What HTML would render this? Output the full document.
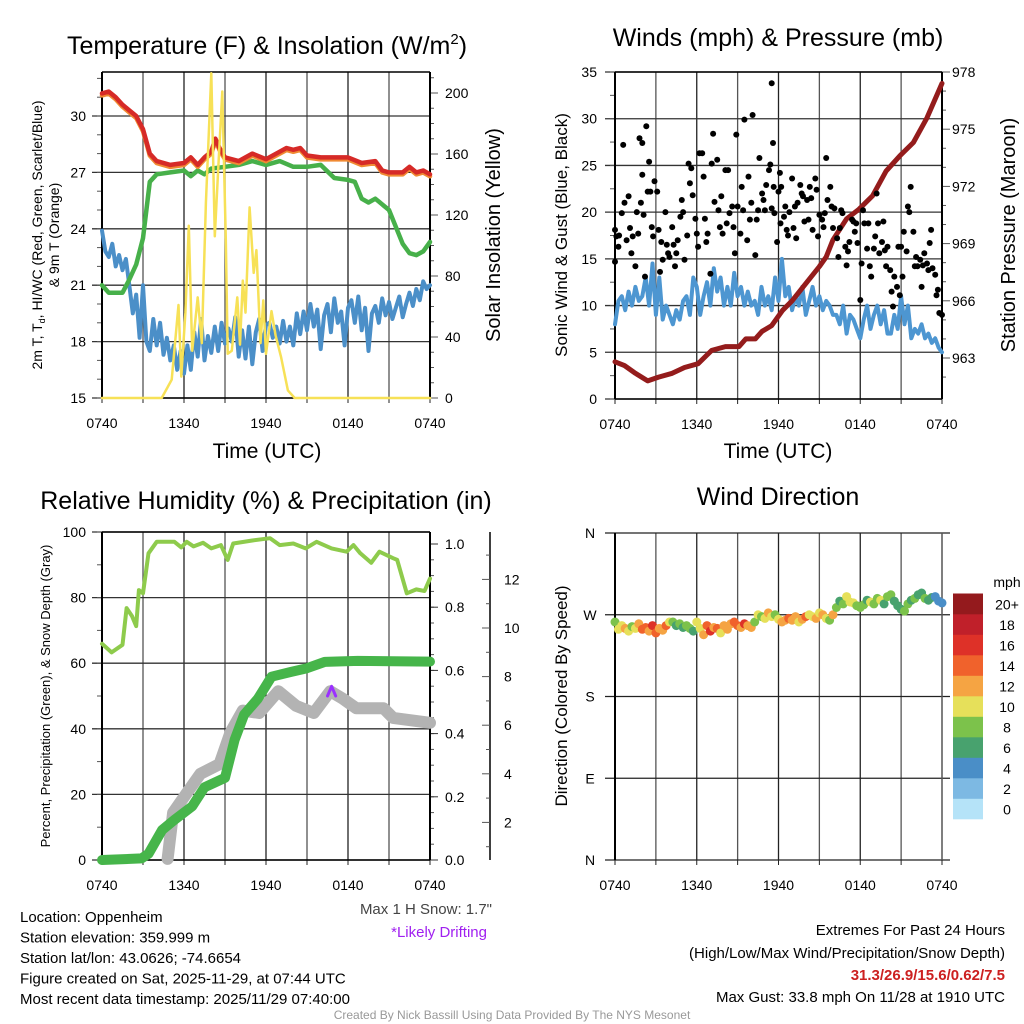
<!DOCTYPE html>
<html><head><meta charset="utf-8"><style>
html,body{margin:0;padding:0;background:#fff;}
svg{display:block;font-family:"Liberation Sans",sans-serif;}
</style></head><body>
<svg id="chart" width="1024" height="1024" viewBox="0 0 1024 1024" xmlns="http://www.w3.org/2000/svg">
<rect width="1024" height="1024" fill="#fff"/>
<g id="gAxes"></g>
<g id="gData"></g>
<g id="gText"></g>
</svg>
<script>
// ---------- Panel 1: temperature & insolation ----------
const tempHours = [0,0.5,1,1.5,2,2.5,3,3.5,4,5,6,6.5,7,7.5,8,8.3,8.6,9,10,11,12,13,13.5,14,14.5,15,16,17,18,19,20,20.5,21,22,22.5,23,23.5,24];
const tempValues = [31.2,31.3,31.0,30.6,30.3,30.0,29.3,28.0,27.6,27.4,27.5,27.8,27.4,27.8,28.1,28.8,28.3,27.8,27.6,28.0,27.7,28.1,28.3,28.2,28.3,27.9,27.8,27.8,27.8,27.5,27.6,27.1,27.0,27.0,27.3,27.0,27.1,26.9];
const dewHours = [0,0.5,1.5,2,2.5,3,3.5,4,5,6,6.5,7,7.5,8,9,10,11,12,13,14,15,16,17,18,18.5,19,19.5,20,21,22,22.5,23,23.5,24];
const dewValues = [21.0,20.6,20.6,21.3,22.1,23.5,26.5,26.9,27.0,27.1,26.8,27.1,26.9,27.2,27.3,27.4,27.6,27.4,27.6,27.3,27.3,27.4,26.7,26.6,26.5,25.6,25.4,25.6,25.0,23.2,22.7,22.6,22.8,23.3];
const chillValues = [23.9,22.8,22.5,23.2,22.0,22.6,21.8,22.4,21.0,19.5,20.5,18.2,21.0,18.0,17.5,19.2,17.8,19.0,17.3,18.2,17.0,17.8,16.5,17.5,16.3,17.8,16.5,18.5,17.2,19.2,17.0,18.3,17.4,18.8,17.5,19.0,17.9,18.7,18.0,19.3,17.2,18.6,17.1,18.8,16.8,18.5,19.2,17.5,18.9,19.0,18.2,18.8,17.9,19.1,18.0,18.8,17.8,19.5,18.4,19.6,18.6,20.0,18.8,19.7,17.6,19.4,20.0,18.5,20.3,19.0,19.6,17.8,19.8,20.2,19.0,20.4,18.6,19.8,17.5,19.5,19.9,19.0,20.3,19.4,20.1,19.2,19.8,20.4,19.3,20.0,20.6,19.9,20.8,20.2,21.2,20.8,21.0];
const solarHours = [0,4.37,5.1,5.6,5.8,6.1,6.35,6.6,7.0,7.3,7.6,8.0,8.25,8.5,8.8,9.06,9.2,9.5,9.9,10.1,10.3,10.5,10.8,11.1,11.3,11.6,11.8,12.0,12.4,12.7,13.1,13.6,14.1,24];
const solarValues = [0,0,12,61,14,56,113,31,66,36,128,213,106,150,201,104,29,31,66,35,77,56,125,82,97,36,64,29,57,41,27,5,0,0];
const tempTicks = [15,18,21,24,27,30];
const solarTicks = [0,40,80,120,160,200];
const timeLabels = ["0740","1340","1940","0140","0740"];

// ---------- Panel 2: winds & pressure ----------
const windValues = [8,10.5,11,9.5,11.5,10,12,10.5,11,13,10,14.5,9,13,8.5,10,9,8,9.5,8.5,10.5,11,9,13,12,9,11,12.5,10,14,11.5,13,10,12,10,13.5,11,12,10,11.5,10,10.5,9,12,10,11,9.5,13,10.5,15,11,12,9.5,11,10,12,9,10.5,12,10,11,9.5,10.5,10,9,9,8,10,7,9,8.5,7.5,6.5,8.5,10,7.5,9,10,8,9.5,7,7,9,7.5,11,8,10,6.5,7.5,7,8,6.5,7,6,6.5,5.5,5];
const gustHours = [0,0,0.1,0.25,0.3,0.6,0.5,0.7,0.85,1.0,1.1,1.2,1.3,1.5,1.6,1.7,1.8,1.9,2,2,2.1,2.2,2.3,2.4,2.5,2.6,2.7,2.8,2.9,3.1,3.2,3.3,3.4,3.5,3.7,3.8,3.9,4.0,4.2,4.3,4.4,4.5,4.6,4.8,4.9,5,5.1,5.3,5.4,5.5,5.6,5.7,5.9,6,6.1,6.2,6.4,6.5,6.6,6.7,6.8,7,7.1,7.2,7.3,7.5,7.6,7.7,7.8,7.9,8.1,8.2,8.3,8.4,8.6,8.7,8.8,8.9,9,9.2,9.3,9.4,9.5,9.7,9.8,9.9,10,10.1,10.3,10.4,10.5,10.6,10.8,10.9,11,11.1,11.3,11.4,11.5,11.5,11.6,11.65,11.7,11.9,12,12.1,12.15,12.2,12.4,12.5,12.6,12.7,12.8,13,13.1,13.2,13.3,13.4,13.6,13.7,13.8,13.9,14.1,14.2,14.3,14.4,14.5,14.7,14.8,14.9,15,15.2,15.3,15.4,15.5,15.6,15.8,15.9,16,16.1,16.3,16.4,16.5,16.6,16.7,16.9,17,17.1,17.2,17.4,17.5,17.6,17.7,17.8,18,18.1,18.2,18.3,18.5,18.6,18.7,18.8,19,19.1,19.2,19.3,19.4,19.6,19.7,19.8,19.9,20,20.2,20.3,20.4,20.5,20.7,20.8,20.9,21,21.1,21.2,21.4,21.5,21.6,21.7,21.9,22,22.1,22.2,22.4,22.5,22.6,22.7,22.9,23,23.1,23.2,23.3,23.5,23.6,23.7,23.8,24];
const gustValues = [14.7,18.1,17.4,16.3,17.5,27.2,19.9,21,17,21.7,18.3,15.6,17.4,14.2,20,17.7,27.9,21,27.4,24,19.7,13.1,29.2,22.2,25.4,22.2,18.4,17.4,23.3,22.2,18.1,13.6,16.8,14.9,20,16.5,15.6,15.2,18.4,16.5,14.2,15.6,17,19.5,21.3,20,14.9,17.5,25.2,23.1,24.7,21.8,19.3,17.7,16.3,26.3,26.3,23.8,19.3,16.8,17.7,13.4,25.2,28.4,21.1,25.6,20.2,18.4,21.7,17.7,24.5,18.8,24.5,19.9,20.6,18.4,15.6,28.3,20.6,17.7,22.7,20.2,29.9,17,23.8,19.2,21,30.4,15.4,19.2,20.2,25.8,22,21.3,20.2,22.9,24.5,25.1,33.8,20.4,27.4,22.7,19.9,16.8,22.2,24.2,18.8,22.7,19.5,20.6,18.1,17.5,20,23.6,18.3,20.6,17.2,21,22.9,22,21.7,19,21.3,19.2,22.7,21.5,18.1,23.6,22.4,17.4,19.7,19.2,18.4,19.9,25.8,21.3,22.7,20.6,18.3,20.4,17.2,15.2,18.3,20.2,19.9,16.3,14.3,15.8,16.8,19.2,19,17.9,18.8,16.7,10.6,14.5,20.2,18.8,16.1,18.8,14.2,13.1,16.1,17.4,22,18.8,15.6,16.8,19,15.9,14.2,16.3,13.8,11.5,9.9,13.1,12,16.3,11.1,16.3,13.1,17.9,15.8,20.6,20,22.7,17.9,14.2,15.2,14.2,14.9,12,14.3,15.6,14.5,13.8,16.7,18.1,14,13.3,11.1,11.7,9.2,9];
const presHours = [0,0.7,1.5,2.4,3.2,4.2,5.1,6.1,7.1,8.1,9.1,9.6,10.3,10.8,11.5,12.3,13.0,14.0,15.0,15.5,16.0,17.0,17.9,18.9,19.9,20.9,21.9,22.9,24];
const presValues = [962.8,962.6,962.2,961.8,962.0,962.2,962.5,962.7,963.4,963.6,963.6,964.0,964.0,964.4,964.7,965.5,966.0,966.9,967.8,968.3,969.2,970.3,970.8,971.5,972.8,973.6,974.3,975.6,977.4];
const windTicks = [0,5,10,15,20,25,30,35];
const presTicks = [963,966,969,972,975,978];

// ---------- Panel 3: RH, precip, snow ----------
const rhHours = [0,0.7,1.5,1.8,2.2,2.5,2.7,3.0,3.4,4.0,5.3,5.8,6.2,6.7,7.4,8.0,8.7,9.2,9.6,11.0,12.3,13,14,14.9,15.7,16.8,17.9,18.4,18.9,19.7,20.3,21.3,21.6,22.3,23,23.6,24];
const rhValues = [65.9,63.3,65.6,76.8,74.3,71.3,82.3,81.3,93.5,97,97,95.3,97,95.6,96.7,95,96,91.5,96.5,97.4,98.1,96,96.5,95,97,95,94,96,93.5,90.6,94,92,91.5,81.3,82.5,82,85.8];
const precipHours = [0,2.9,3.4,4.4,5.3,6.6,7.5,9,9.7,10.4,11.4,12.4,13.8,15,16.3,18.7,24];
const precipValues = [0,0.005,0.02,0.095,0.127,0.17,0.23,0.26,0.38,0.46,0.51,0.58,0.595,0.607,0.627,0.63,0.628];
const snowHours = [4.8,5.2,6.2,7.2,8.6,9.4,10.3,11.5,12.9,14.2,15.5,16.7,17.6,18.6,20.6,21.3,24];
const snowValues = [0.5,2.4,3.2,4.0,4.4,5.7,6.6,6.5,7.4,6.8,6.5,7.4,7.1,6.7,6.7,6.3,6.1];
const driftHours = [16.5,16.8,17.1];
const driftValues = [7.2,7.6,7.2];
const rhTicks = [0,20,40,60,80,100];
const precipTicks = ["0.0","0.2","0.4","0.6","0.8","1.0"];
const snowTicks = [2,4,6,8,10,12];

// ---------- Panel 4: wind direction ----------
const dirValues = [262,254,258,255,252,257,255,260,254,256,252,258,250,255,253,258,262,262,258,260,256,258,255,252,262,255,248,258,252,256,255,250,258,254,260,262,258,256,260,258,256,262,270,268,266,272,268,270,265,262,264,266,264,268,262,265,268,270,268,266,272,270,266,264,270,278,285,282,290,284,283,280,278,281,286,284,282,288,286,282,290,292,285,280,276,274,282,286,288,292,294,288,286,289,290,285,283];
const dirSpeeds = [8,10,11,12,10,9,11,13,15,14,12,16,15,13,12,15,11,8,7,8,7,9,8,7,10,10,12,14,16,12,15,11,13,12,13,15,14,12,16,13,12,9,10,8,11,12,10,9,11,12,13,15,12,13,11,12,14,10,11,12,10,12,11,9,13,8,7,9,10,11,10,8,9,8,7,10,9,8,10,7,9,8,6,6,7,9,8,7,8,7,6,8,7,6,5,4,4];
const dirTicks = ["N","E","S","W","N"];
const speedLabels = ["0","2","4","6","8","10","12","14","16","18","20+"];
const speedColors = ["#b5e3f8","#7db9e3","#4a8ec7","#48a26e","#7cc24b","#e6e05a","#f5a443","#f0622c","#de3128","#c0202a","#941a1d"];

// ---------- scales ----------
const X1 = h => 102 + h * 328 / 24;
const X2 = h => 615 + h * 327 / 24;
const YT = v => 398 - (v - 15) * 282 / 15;
const YS = w => 398 - w * 305 / 200;
const YW = v => 399 - v * 327 / 35;
const YP = p => 358 - (p - 963) * 286 / 15;
const YR = r => 860 - r * 3.28;
const YPc = p => 860 - p * 316;
const YSn = s => 871 - s * 24.3;
const YD = d => 860 - d * 327 / 360;

const NS = "http://www.w3.org/2000/svg";
const gA = document.getElementById("gAxes");
const gD = document.getElementById("gData");
const gT = document.getElementById("gText");
function mk(tag, parent, attrs) {
  const e = document.createElementNS(NS, tag);
  for (const k in attrs) e.setAttribute(k, attrs[k]);
  parent.appendChild(e);
  return e;
}
function line(parent, x1, y1, x2, y2, col, w, name) {
  const e = mk("line", parent, {x1: x1, y1: y1, x2: x2, y2: y2, stroke: col, "stroke-width": w});
  
  
  return e;
}
function text(parent, x, y, s, size, anchor, name, extra) {
  const e = mk("text", parent, {x: x, y: y, "font-size": size, "text-anchor": anchor, fill: "#000"});
  if (extra) for (const k in extra) e.setAttribute(k, extra[k]);
  e.textContent = s;
  
  
  return e;
}
function series(xs, ys, fx, fy, col, w, name, ofs) {
  let d = "";
  for (let i = 0; i < xs.length; i++) d += (i ? "L" : "M") + fx(xs[i]).toFixed(1) + "," + (fy(ys[i]) + (ofs || 0)).toFixed(1);
  const e = mk("path", gD, {d: d, fill: "none", stroke: col, "stroke-width": w, "stroke-linejoin": "round", "stroke-linecap": "round"});
  
  
  return e;
}
const idx = a => a.map((_, i) => i * 24 / (a.length - 1));

// ---------- frames and grids ----------
function panelGrid(x0, x1, y0, y1, fx, name) {
  for (let h = 3; h < 24; h += 3) line(gA, fx(h), y0, fx(h), y1, h % 6 ? "#555" : "#222", 1.3, name + "-vgrid");
  for (let h = 0; h <= 24; h += 3) line(gA, fx(h), y1, fx(h), y1 + 5, "#222", 1, name + "-xtick");
  timeLabels.forEach((s, i) => text(gT, fx(i * 6), y1 + 30, s, 14, "middle", name + "-x-tick-label"));
}
panelGrid(102, 430, 72, 398, X1, "temp");
tempTicks.forEach(v => { line(gA, 92, YT(v), 430, YT(v), "#333", 1.3, "temp-hgrid"); text(gT, 86, YT(v) + 5, String(v), 14, "end", "temp-y-tick-label"); });
for (let v = 15; v <= 32; v++) line(gA, 97, YT(v), 102, YT(v), "#555", 1, "temp-minor-tick");
for (let w = 0; w <= 210; w += 10) line(gA, 430, YS(w), w % 40 ? 434 : 438, YS(w), "#555", 1, "solar-tick");
solarTicks.forEach(w => text(gT, 445, YS(w) + 5, String(w), 14, "start", "solar-tick-label"));
line(gA, 102, 72, 102, 398, "#000", 2, "temp-left-axis");
line(gA, 430, 72, 430, 398, "#000", 2, "temp-right-axis");
line(gA, 102, 72, 430, 72, "#000", 1.5, "temp-top-axis");
line(gA, 102, 398, 430, 398, "#000", 1.5, "temp-bottom-axis");
panelGrid(615, 942, 72, 399, X2, "wind");
windTicks.forEach(v => { line(gA, 605, YW(v), 942, YW(v), "#333", 1.3, "wind-hgrid"); text(gT, 597, YW(v) + 5, String(v), 14, "end", "wind-y-tick-label"); });
for (let v = 0; v <= 35; v += 2.5) line(gA, 610, YW(v), 615, YW(v), "#555", 1, "wind-minor-tick");
for (let p = 962; p <= 978; p++) line(gA, 942, YP(p), (p % 3) ? 946 : 950, YP(p), "#555", 1, "pres-tick");
presTicks.forEach(p => text(gT, 952, YP(p) + 5, String(p), 14, "start", "pres-tick-label"));
line(gA, 615, 72, 615, 399, "#000", 2, "wind-left-axis");
line(gA, 942, 72, 942, 399, "#000", 2, "wind-right-axis");
line(gA, 615, 72, 942, 72, "#000", 1.5, "wind-top-axis");
line(gA, 615, 399, 942, 399, "#000", 1.5, "wind-bottom-axis");
panelGrid(102, 430, 532, 860, X1, "rh");
rhTicks.forEach(v => { line(gA, 92, YR(v), 430, YR(v), "#333", 1.3, "rh-hgrid"); text(gT, 86, YR(v) + 5, String(v), 14, "end", "rh-y-tick-label"); });
for (let v = 0; v <= 100; v += 10) line(gA, 97, YR(v), 102, YR(v), "#555", 1, "rh-minor-tick");
for (let p = 0; p <= 1.0001; p += 0.05) line(gA, 430, YPc(p), 434, YPc(p), "#555", 1, "precip-minor-tick");
precipTicks.forEach(s => { line(gA, 430, YPc(+s), 438, YPc(+s), "#333", 1, "precip-tick"); text(gT, 445, YPc(+s) + 5, s, 14, "start", "precip-tick-label"); });
line(gA, 490, 532, 490, 860, "#000", 1.5, "snow-axis");
for (let s = 1; s <= 13; s++) line(gA, 490, YSn(s), s % 2 ? 486 : 482, YSn(s), "#555", 1, "snow-tick");
snowTicks.forEach(s => text(gT, 504, YSn(s) + 5, String(s), 14, "start", "snow-tick-label"));
line(gA, 102, 532, 102, 860, "#000", 2, "rh-left-axis");
line(gA, 430, 532, 430, 860, "#000", 2, "rh-right-axis");
line(gA, 102, 532, 430, 532, "#000", 1.5, "rh-top-axis");
line(gA, 102, 860, 430, 860, "#000", 1.5, "rh-bottom-axis");
panelGrid(615, 942, 533, 860, X2, "dir");
dirTicks.forEach((s, i) => { line(gA, 605, YD(i * 90), 950, YD(i * 90), "#222", 1.3, "dir-hgrid"); text(gT, 590, YD(i * 90) + 5, s, 14, "middle", "dir-y-tick-label"); });
line(gA, 615, 533, 615, 860, "#000", 2, "dir-left-axis");
line(gA, 942, 533, 942, 860, "#555", 1.5, "dir-right-axis");

// ---------- data ----------
series(idx(chillValues), chillValues, X1, YT, "#4b8fc8", 4, "wind-chill-line");
series(dewHours, dewValues, X1, YT, "#47b04a", 4.5, "dewpoint-line");
series(tempHours, tempValues, X1, YT, "#f08a33", 4.5, "temp-9m-line", 2);
series(tempHours, tempValues, X1, YT, "#d62a27", 4.5, "temp-2m-line");
series(solarHours, solarValues, X1, YS, "#f7e157", 2.5, "solar-insolation-line");

series(idx(windValues), windValues, X2, YW, "#4d96d1", 4, "sonic-wind-line");
series(presHours, presValues, X2, YP, "#941c1c", 5, "pressure-line");
gustHours.forEach((h, i) => {
  const c = mk("circle", gD, {cx: X2(h).toFixed(1), cy: YW(gustValues[i]).toFixed(1), r: 3, fill: "#000"});
  
  
});

series(snowHours, snowValues, X1, YSn, "#b3b3b3", 12, "snow-depth-line");
series(driftHours, driftValues, X1, YSn, "#9b30ff", 3, "drifting-marker");
series(precipHours, precipValues, X1, YPc, "#46b54a", 10, "precip-line");
series(rhHours, rhValues, X1, YR, "#8ecb4c", 4, "rh-line");

dirValues.forEach((d, i) => {
  const h = i * 24 / (dirValues.length - 1);
  const bin = Math.min(10, Math.floor(dirSpeeds[i] / 2));
  const c = mk("circle", gD, {cx: X2(h).toFixed(1), cy: YD(d).toFixed(1), r: 4.5, fill: speedColors[bin]});
  
  
});
speedLabels.forEach((s, i) => {
  const y = 819 - (i + 1) * 20.5;
  const r = mk("rect", gA, {x: 953, y: y.toFixed(1), width: 30, height: 20.8, fill: speedColors[i]});
  
  
  text(gT, 1007, y + 16, s, 14, "middle", "colorbar-label");
});
text(gT, 1007, 587, "mph", 14, "middle", "colorbar-title");

// ---------- titles & labels ----------
const t1 = text(gT, 267, 54, "Temperature (F) & Insolation (W/m", 25, "middle", "temp-panel-title");
const sup = mk("tspan", t1, {"font-size": 15, dy: -10}); sup.textContent = "2";
const cl = mk("tspan", t1, {dy: 10}); cl.textContent = ")";
text(gT, 778, 46, "Winds (mph) & Pressure (mb)", 25, "middle", "wind-panel-title");
text(gT, 266, 509, "Relative Humidity (%) & Precipitation (in)", 25, "middle", "rh-panel-title");
text(gT, 778, 505, "Wind Direction", 25, "middle", "dir-panel-title");
text(gT, 267, 458, "Time (UTC)", 21, "middle", "temp-x-axis-title");
text(gT, 778, 458, "Time (UTC)", 21, "middle", "wind-x-axis-title");
const yt = text(gT, 0, 0, "2m T, T", 14, "middle", "temp-y-axis-title", {transform: "translate(42,235) rotate(-90)"});
const sub = mk("tspan", yt, {"font-size": 9, dy: 3}); sub.textContent = "d";
const rest = mk("tspan", yt, {dy: -3}); rest.textContent = ", HI/WC (Red, Green, Scarlet/Blue)";
text(gT, 0, 0, "& 9m T (Orange)", 14, "middle", "temp-y-axis-title-line2", {transform: "translate(59,235) rotate(-90)"});
text(gT, 0, 0, "Solar Insolation (Yellow)", 20, "middle", "solar-axis-title", {transform: "translate(500,235) rotate(-90)"});
text(gT, 0, 0, "Sonic Wind & Gust (Blue, Black)", 17, "middle", "wind-y-axis-title", {transform: "translate(567,235) rotate(-90)"});
text(gT, 0, 0, "Station Pressure (Maroon)", 20, "middle", "pressure-axis-title", {transform: "translate(1015,235) rotate(-90)"});
text(gT, 0, 0, "Percent, Precipitation (Green), & Snow Depth (Gray)", 13, "middle", "rh-y-axis-title", {transform: "translate(50,696) rotate(-90)"});
text(gT, 0, 0, "Direction (Colored By Speed)", 17, "middle", "dir-y-axis-title", {transform: "translate(567,696) rotate(-90)"});

// ---------- footer ----------
const foot = ["Location: Oppenheim","Station elevation: 359.999 m","Station lat/lon: 43.0626; -74.6654","Figure created on Sat, 2025-11-29, at 07:44 UTC","Most recent data timestamp: 2025/11/29 07:40:00"];
foot.forEach((s, i) => text(gT, 20, 922 + i * 20.5, s, 15, "start", "station-info-line"));
text(gT, 492, 914, "Max 1 H Snow: 1.7\"", 15, "end", "max-snow-note", {fill: "#444"});
text(gT, 487, 937, "*Likely Drifting", 15, "end", "drifting-note", {fill: "#a020f0"});
text(gT, 1005, 935, "Extremes For Past 24 Hours", 15, "end", "extremes-title");
text(gT, 1005, 958, "(High/Low/Max Wind/Precipitation/Snow Depth)", 15, "end", "extremes-subtitle");
text(gT, 1005, 980, "31.3/26.9/15.6/0.62/7.5", 15, "end", "extremes-values", {fill: "#cc2020", "font-weight": "bold"});
text(gT, 1005, 1002, "Max Gust: 33.8 mph On 11/28 at 1910 UTC", 15, "end", "max-gust-note");
text(gT, 512, 1019, "Created By Nick Bassill Using Data Provided By The NYS Mesonet", 12, "middle", "credit-line", {fill: "#999"});
</script>
</body></html>
